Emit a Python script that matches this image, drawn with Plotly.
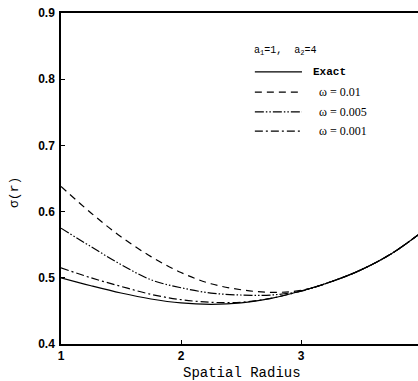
import plotly.graph_objects as go

# Spatial radius samples and sigma(r) for the exact solution and three omega values
r = [1.0, 1.25, 1.5, 1.75, 2.0, 2.25, 2.5, 2.75, 3.0, 3.25, 3.5, 3.75, 4.0]
sigma_exact = [0.500, 0.488, 0.477, 0.468, 0.462, 0.460, 0.462, 0.469, 0.480, 0.494, 0.512, 0.536, 0.568]
sigma_w001 = [0.638, 0.598, 0.562, 0.532, 0.508, 0.491, 0.482, 0.478, 0.481, 0.494, 0.512, 0.536, 0.568]
sigma_w0005 = [0.575, 0.547, 0.520, 0.497, 0.485, 0.477, 0.474, 0.474, 0.480, 0.494, 0.512, 0.536, 0.568]
sigma_w0001 = [0.515, 0.500, 0.487, 0.475, 0.467, 0.463, 0.463, 0.469, 0.480, 0.494, 0.512, 0.536, 0.568]

series_names = ["Exact", "\u03c9 = 0.01", "\u03c9 = 0.005", "\u03c9 = 0.001"]
series_values = [sigma_exact, sigma_w001, sigma_w0005, sigma_w0001]
dashes = ["solid", "7px,5px", "9px,2px,1.5px,2px,1.5px,2px", "8px,3px,2px,3px"]

x_ticks = [1, 2, 3, 4]
y_ticks = [0.4, 0.5, 0.6, 0.7, 0.8, 0.9]
param_text = "a<sub>1</sub>=1,  a<sub>2</sub>=4"

fig = go.Figure()
for name, vals, dash in zip(series_names, series_values, dashes):
    fig.add_trace(go.Scatter(
        x=r, y=vals, mode="lines", name=name, showlegend=False,
        line=dict(color="black", width=1.2, dash=dash, shape="spline"),
    ))

# Hand-placed key in the upper right of the plot
key_x0, key_x1 = 0.543, 0.675
key_rows = [0.822, 0.761, 0.701, 0.643]
for name, dash, ky in zip(series_names, dashes, key_rows):
    fig.add_shape(type="line", xref="paper", yref="paper",
                  x0=key_x0, x1=key_x1, y0=ky, y1=ky,
                  line=dict(color="black", width=1.2, dash=dash))
    is_exact = name == "Exact"
    fig.add_annotation(
        xref="paper", yref="paper", x=0.70 if is_exact else 0.716, y=ky,
        text=name, showarrow=False, xanchor="left", yanchor="middle",
        font=dict(family="Liberation Mono" if is_exact else "Liberation Serif",
                  size=11 if is_exact else 12, color="black",
                  weight="bold" if is_exact else "normal"),
    )
fig.add_annotation(xref="paper", yref="paper", x=0.536, y=0.885, text=param_text,
                   showarrow=False, xanchor="left", yanchor="middle",
                   font=dict(family="Liberation Mono", size=10, color="black"))

# Axis titles
fig.add_annotation(xref="paper", yref="paper", x=0.507, y=-0.088, text="Spatial Radius",
                   showarrow=False, xanchor="center", yanchor="middle",
                   font=dict(family="Liberation Mono", size=14, color="black"))
fig.add_annotation(xref="paper", yref="paper", x=-0.132, y=0.459, text="\u03c3(r)",
                   showarrow=False, textangle=-90, xanchor="center", yanchor="middle",
                   font=dict(family="Liberation Mono", size=13, color="black"))

# Last x tick label sits just past the right edge of the visible range
fig.add_annotation(xref="x", yref="paper", x=x_ticks[-1], y=-0.026, text=str(x_ticks[-1]),
                   showarrow=False, xanchor="center", yanchor="middle",
                   font=dict(family="Liberation Sans", size=12, color="black", weight="bold"))

tick_font = dict(family="Liberation Sans", size=12, color="black", weight="bold")
fig.update_xaxes(range=[1, 3.975], tickvals=x_ticks, ticktext=[str(t) for t in x_ticks],
                 ticks="inside", ticklen=4, tickcolor="black", showgrid=False, zeroline=False,
                 showline=True, linecolor="black", linewidth=1.5, mirror=True,
                 tickfont=tick_font, ticklabelstandoff=0)
fig.update_yaxes(range=[0.4, 0.9], tickvals=y_ticks, ticktext=[f"{t:.1f}" for t in y_ticks],
                 ticks="inside", ticklen=4, tickcolor="black", showgrid=False, zeroline=False,
                 showline=True, linecolor="black", linewidth=1.5, mirror=False,
                 tickfont=tick_font, ticklabelstandoff=2)

fig.update_layout(
    width=418, height=381,
    margin=dict(l=61, r=0, t=13, b=37),
    paper_bgcolor="white", plot_bgcolor="white",
    showlegend=False,
)

fig.write_html("out.html")
